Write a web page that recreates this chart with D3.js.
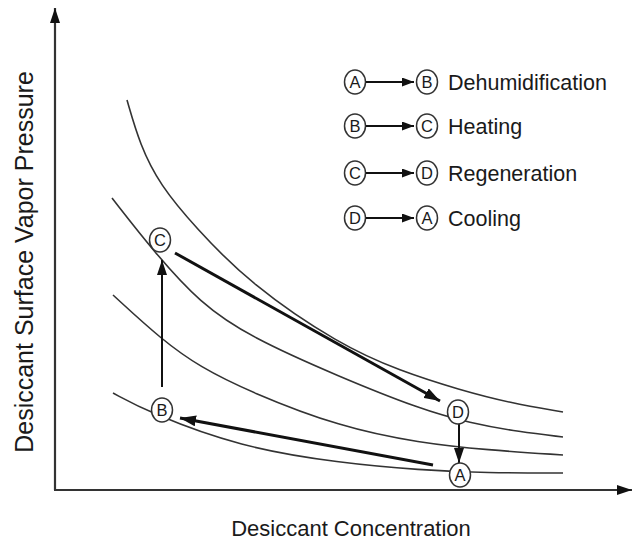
<!DOCTYPE html>
<html>
<head>
<meta charset="utf-8">
<script src="https://cdn.jsdelivr.net/npm/d3@7"></script>
<style>
  body { margin: 0; background: #fff; }
  text { font-family: "Liberation Sans", Arial, sans-serif; fill: #1a1a1a; }
</style>
</head>
<body>
<div id="chart-area"></div>
<script>
// SVG Size
let width = 635,
	height = 541;

// Isotherm curves (concentration, vapor pressure) in chart units
let curve1 = [[72, 390], [85, 345], [105, 305], [140, 263], [195, 206], [285, 145], [345, 119], [405, 100], [455, 87], [508, 78]];
let curve2 = [[57, 292], [100, 237], [145, 187], [195, 153], [285, 113], [365, 81], [415, 67], [465, 58], [508, 53]];
let curve3 = [[58, 195], [107, 150], [145, 123], [195, 98], [285, 63], [365, 47], [432, 40], [508, 35]];
let curve4 = [[58, 97], [95, 77], [185, 43], [285, 27], [365, 20], [432, 17], [508, 17]];
let curves = [curve1, curve2, curve3, curve4];

// Cycle states
let stateNames = ["A", "B", "C", "D"];
let stateConc = [405, 107, 105, 403];
let statePres = [15, 80, 250, 78];

// Process arrows: start and end in chart units, stroke weight
let arrowFrom = [[378, 25], [107, 103], [120, 237], [404, 66]];
let arrowTo = [[125, 72], [107, 230], [385, 89], [404, 27]];
let arrowWeight = [3, 2, 3, 2];

// Legend
let legendFrom = ["A", "B", "C", "D"];
let legendTo = ["B", "C", "D", "A"];
let legendLabels = ["Dehumidification", "Heating", "Regeneration", "Cooling"];

let svg = d3.select("#chart-area").append("svg")
	.attr("width", width)
	.attr("height", height);

let x = d3.scaleLinear().domain([0, 577]).range([55, 632]);
let y = d3.scaleLinear().domain([0, 482]).range([490, 8]);

let defs = svg.append("defs");
function marker(id, w, l) {
	defs.append("marker")
		.attr("id", id)
		.attr("viewBox", "0 0 " + l + " " + w)
		.attr("refX", l).attr("refY", w / 2)
		.attr("markerWidth", l).attr("markerHeight", w)
		.attr("markerUnits", "userSpaceOnUse")
		.attr("orient", "auto")
		.append("path")
		.attr("d", "M0,0L" + l + "," + w / 2 + "L0," + w + "Z")
		.attr("fill", "#111");
}
marker("axisHead", 10, 15);
marker("bigHead", 11, 16);
marker("smallHead", 10, 15);
marker("legHead", 9, 12);

// axes
svg.append("line")
	.attr("x1", x(0)).attr("y1", y(0))
	.attr("x2", x(0)).attr("y2", y(482))
	.attr("stroke", "#333").attr("stroke-width", 2.2)
	.attr("marker-end", "url(#axisHead)");
svg.append("line")
	.attr("x1", x(0) - 1).attr("y1", y(0))
	.attr("x2", x(577)).attr("y2", y(0))
	.attr("stroke", "#333").attr("stroke-width", 2.2)
	.attr("marker-end", "url(#axisHead)");

// curves
let line = d3.line()
	.x(d => x(d[0]))
	.y(d => y(d[1]))
	.curve(d3.curveBasis);

svg.selectAll(".iso").data(curves).enter()
	.append("path")
	.attr("class", "iso")
	.attr("d", line)
	.attr("fill", "none")
	.attr("stroke", "#333")
	.attr("stroke-width", 1.6);

// process arrows
svg.selectAll(".proc").data(arrowFrom).enter()
	.append("line")
	.attr("class", "proc")
	.attr("x1", d => x(d[0])).attr("y1", d => y(d[1]))
	.attr("x2", (d, i) => x(arrowTo[i][0])).attr("y2", (d, i) => y(arrowTo[i][1]))
	.attr("stroke", "#111")
	.attr("stroke-width", (d, i) => arrowWeight[i])
	.attr("marker-end", (d, i) => arrowWeight[i] > 2 ? "url(#bigHead)" : "url(#smallHead)");

// state circles
function badge(g, cx, cy, letter) {
	g.append("ellipse")
		.attr("cx", cx).attr("cy", cy)
		.attr("rx", 10.5).attr("ry", 12)
		.attr("fill", "#fff")
		.attr("stroke", "#333").attr("stroke-width", 1.5);
	g.append("text")
		.attr("x", cx).attr("y", cy + 6)
		.attr("text-anchor", "middle")
		.style("font-size", "16.5px")
		.text(letter);
}

stateNames.forEach((s, i) => {
	badge(svg.append("g"), x(stateConc[i]), y(statePres[i]), s);
});

// legend
let rowY = [82, 126, 173, 218];
legendLabels.forEach((lab, i) => {
	let g = svg.append("g");
	badge(g, 355, rowY[i], legendFrom[i]);
	g.append("line")
		.attr("x1", 366).attr("y1", rowY[i])
		.attr("x2", 414).attr("y2", rowY[i])
		.attr("stroke", "#111").attr("stroke-width", 2.2)
		.attr("marker-end", "url(#legHead)");
	badge(g, 427, rowY[i], legendTo[i]);
	g.append("text")
		.attr("x", 448).attr("y", rowY[i] + 8)
		.style("font-size", "21.5px")
		.text(lab);
});

// axis titles
svg.append("text")
	.attr("x", 351).attr("y", 536)
	.attr("text-anchor", "middle")
	.style("font-size", "22px")
	.text("Desiccant Concentration");

svg.append("text")
	.attr("transform", "translate(33,262) rotate(-90)")
	.attr("text-anchor", "middle")
	.style("font-size", "25px")
	.text("Desiccant Surface Vapor Pressure");
</script>
</body>
</html>
